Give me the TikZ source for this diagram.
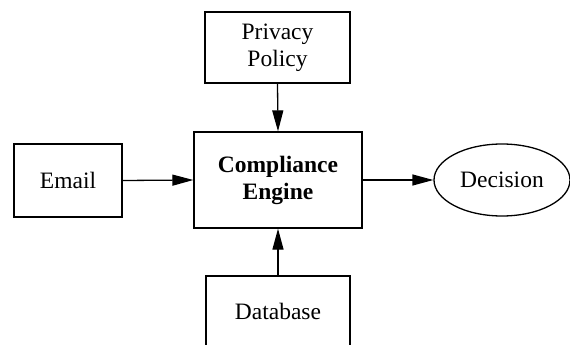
\documentclass[tikz,border=0pt]{standalone}
\usepackage{fontspec}
\setmainfont{Liberation Serif}
\usetikzlibrary{positioning}
\usetikzlibrary{arrows.meta, shapes.geometric}

\begin{document}
\begin{tikzpicture}[x=1pt, y=-1pt,
    every node/.style={draw, line width=1.3pt, inner sep=0pt,
        align=center, font=\fontsize{23.5}{27}\selectfont},
    flow/.style={line width=1.3pt, -{Triangle[length=21pt, width=11pt]}}]
   \clip (0,0) rectangle (570,345);
   \fill[white] (0,0) rectangle (570,345);

   \node[rectangle,
          minimum width = 145pt,
          minimum height = 71pt] (policy) at (277.5,47.5) {Privacy\\Policy};
   \node[rectangle,
          minimum width = 108pt,
          minimum height = 73pt] (email) at (68,180.5) {Email};
   \node[rectangle,
          minimum width = 168pt,
          minimum height = 96pt,
          font=\fontsize{23.5}{27}\selectfont\bfseries] (engine) at (278,180) {Compliance\\Engine};
   \node[ellipse,
          minimum width = 136pt,
          minimum height = 72pt] (decision) at (502,180) {Decision};
   \node[rectangle,
          minimum width = 144pt,
          minimum height = 71pt] (database) at (278,311.5) {Database};

    \draw [flow] (policy.south) -- (engine.north);
    \draw [flow] (email.east) -- (engine.west);
    \draw [flow] (engine.east) -- (decision.west);
    \draw [flow] (database.north) -- (engine.south);
\end{tikzpicture}
\end{document}
